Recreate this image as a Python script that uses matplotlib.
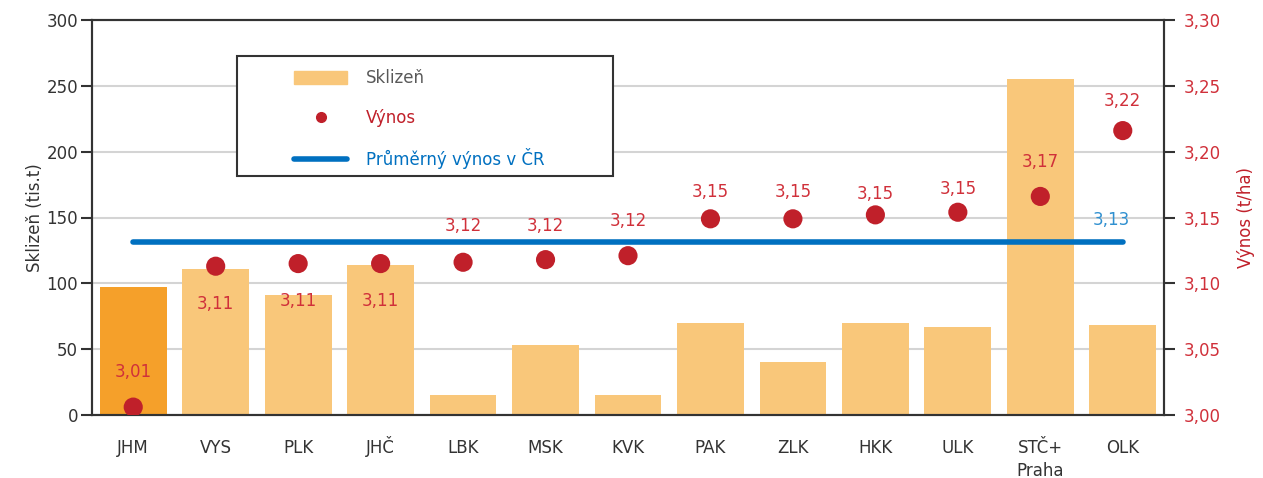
import matplotlib
matplotlib.use("Agg")
import matplotlib.pyplot as plt
import matplotlib.transforms as mtransforms
from matplotlib.lines import Line2D
from matplotlib.patches import Patch, Rectangle

regions = ["JHM", "VYS", "PLK", "JHČ", "LBK", "MSK", "KVK", "PAK", "ZLK", "HKK", "ULK", "STČ+\nPraha", "OLK"]
harvest = [97, 111, 91, 114, 15, 53, 15, 70, 40, 70, 67, 255, 68]
yields = [3.006, 3.113, 3.115, 3.115, 3.116, 3.118, 3.121, 3.149, 3.149, 3.152, 3.154, 3.166, 3.216]
yield_labels = ["3,01", "3,11", "3,11", "3,11", "3,12", "3,12", "3,12", "3,15", "3,15", "3,15", "3,15", "3,17", "3,22"]
avg_yield = 3.1316
avg_label = "3,13"
left_ticks = [0, 50, 100, 150, 200, 250, 300]
right_ticks = [3.00, 3.05, 3.10, 3.15, 3.20, 3.25, 3.30]
right_tick_labels = ["3,00", "3,05", "3,10", "3,15", "3,20", "3,25", "3,30"]

# label vertical offsets (points) – styling only
label_offsets = [25, -27, -27, -27, 26, 24, 25, 19, 19, 15, 17, 25, 21]

plt.rcParams['font.family'] = ['DejaVu Sans']
BAR = "#F9C77A"
BAR_HL = "#F5A02A"
RED = "#C0202A"
LBL_RED = "#D0303A"
BLUE = "#0070C0"
DARK = "#333333"
W, H = 1263, 478

fig = plt.figure(figsize=(12.63, 4.78), dpi=100)
ax = fig.add_axes([92/W, 1-415/H, (1164-92)/W, (415-20)/H])
x = list(range(len(regions)))
colors = [BAR_HL] + [BAR] * (len(regions) - 1)
ax.bar(x, harvest, width=0.81, color=colors, zorder=2)
ax.set_ylim(0, 300)
ax.set_xlim(-0.5, len(regions) - 0.5)
ax.set_yticks(left_ticks)
ax.set_xticks(x)
ax.set_xticklabels([])
ax.tick_params(axis='x', length=0)
# category labels, baseline-aligned (multi-line labels stacked downward)
xtrans = ax.get_xaxis_transform()
for xi, name in zip(x, regions):
    for li, line in enumerate(name.split("\n")):
        tr = mtransforms.offset_copy(xtrans, fig=fig, x=0, y=-(27.2 + 16.5 * li), units='points')
        ax.text(xi, 0, line, transform=tr, ha='center', va='baseline', fontsize=12, color=DARK)
ax.tick_params(axis='y', length=8, width=1.5, colors=DARK, labelsize=12, pad=2, direction='out')
for lab in ax.get_yticklabels():
    lab.set_color(DARK)
ax.yaxis.grid(True, color="#D4D4D4", lw=1.5, zorder=0)
ax.set_axisbelow(True)
for s in ax.spines.values():
    s.set_color(DARK)
    s.set_linewidth(1.5)
ax.set_ylabel("Sklizeň (tis.t)", fontsize=12, color=DARK, labelpad=2)

ax2 = ax.twinx()
ax2.set_ylim(3.0, 3.3)
ax2.set_yticks(right_ticks)
ax2.set_yticklabels(right_tick_labels)
ax2.tick_params(axis='y', length=8, width=1.5, colors=DARK, labelsize=12, pad=6, direction='out')
for lab in ax2.get_yticklabels():
    lab.set_color(LBL_RED)
for s in ax2.spines.values():
    s.set_color(DARK)
    s.set_linewidth(1.5)
ax2.set_ylabel("Výnos (t/ha)", fontsize=12, color=RED, labelpad=12)

ax2.plot([x[0], x[-1]], [avg_yield, avg_yield], color=BLUE, lw=4, solid_capstyle='round', zorder=3)
ax2.scatter(x, yields, s=190, color=RED, zorder=4, edgecolors='none')
for xi, yv, lab, off in zip(x, yields, yield_labels, label_offsets):
    ax2.annotate(lab, (xi, yv), xytext=(0, off), textcoords='offset points',
                 ha='center', va='center', fontsize=12, color=LBL_RED)
ax2.annotate(avg_label, (x[-1], avg_yield), xytext=(-8, 16), textcoords='offset points',
             ha='center', va='center', fontsize=12, color="#3090D0")

# legend frame
fig.patches.append(Rectangle((237/W, 1-176/H), (613-237)/W, (176-56)/H, transform=fig.transFigure,
                             facecolor='white', edgecolor=DARK, lw=1.5, zorder=5))
handles = [Patch(color=BAR), Line2D([], [], ls='none', marker='o', color=RED, markersize=7),
           Line2D([], [], color=BLUE, lw=4, solid_capstyle='round')]
leg = fig.legend(handles, ["Sklizeň", "Výnos", "Průměrný výnos v ČR"],
                 loc='upper left', bbox_to_anchor=(294/W, 1-69/H),
                 fontsize=12, frameon=False, borderpad=0, borderaxespad=0,
                 handlelength=3.2, handleheight=0.8, labelspacing=1.3,
                 handletextpad=1.1)
leg.set_zorder(6)
for t, c in zip(leg.get_texts(), ["#595959", RED, BLUE]):
    t.set_color(c)

fig.savefig("out.png", dpi=100)
